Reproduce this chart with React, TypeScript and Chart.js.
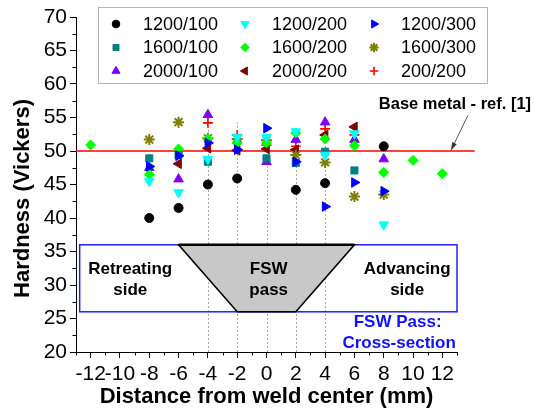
import React, { useEffect, useRef } from 'react';
import { Chart, registerables } from 'chart.js';
import { drawPoint } from 'chart.js/helpers';

Chart.register(...registerables);

// ---------- data ----------
const xPositions = [-12, -8, -6, -4, -2, 0, 2, 4, 6, 8, 10, 12];

const s1200_100 = [null, 40.0, 41.5, 45.0, 45.9, null, 44.2, 45.2, null, 50.7, null, null];
const s1200_200 = [null, 45.5, 43.8, 48.8, 52.1, 52.1, 52.9, 49.4, 52.6, 39.0, null, null];
const s1200_300 = [null, 47.7, 49.3, 51.2, 50.2, 53.4, 48.4, 41.7, 45.3, 44.0, null, null];
const s1600_100 = [null, 48.9, 49.4, 48.4, null, 48.9, 48.2, 49.9, 47.1, null, null, null];
const s1600_200 = [50.9, 46.5, 50.3, 51.8, 51.2, 51.2, 52.7, 51.8, 50.8, 46.8, 48.6, 46.6];
const s1600_300 = [null, 51.7, 54.3, 51.9, 51.8, 51.6, 49.4, 48.3, 43.2, 43.5, null, null];
const s2000_100 = [null, 47.5, 45.8, 55.4, 51.6, 48.4, 51.7, 54.3, 51.7, 48.8, null, null];
const s2000_200 = [null, null, 48.1, 50.4, 50.1, 50.3, 50.2, 52.4, 53.6, null, null, null];
const s200_200 = [null, null, null, 54.2, 52.4, 50.9, 50.7, 53.3, 52.4, null, null, null];

const seriesLabels = ['1200/100', '1200/200', '1200/300', '1600/100', '1600/200', '1600/300', '2000/100', '2000/200', '200/200'];
const seriesValues = [s1200_100, s1200_200, s1200_300, s1600_100, s1600_200, s1600_300, s2000_100, s2000_200, s200_200];

const xTickValues = [-12, -10, -8, -6, -4, -2, 0, 2, 4, 6, 8, 10, 12];
const yTickValues = [20, 25, 30, 35, 40, 45, 50, 55, 60, 65, 70];
const xMinorTicks = [-13, -11, -9, -7, -5, -3, -1, 1, 3, 5, 7, 9, 11, 13];
const yMinorTicks = [22.5, 27.5, 32.5, 37.5, 42.5, 47.5, 52.5, 57.5, 62.5, 67.5];

const baseMetal = 50;
const baseLineX = [-13, 14.2];
const dropLineX = [-4, -2, 0, 2, 4];
const dropLineTop = [55.5, 54.2, 53.6, 53.4, 55.2];
const passBoxX = [-12.75, 13];
const passBoxY = [26, 36];
const passTopX = [-6, 6];
const passBottomX = [-2, 2];

// ---------- styles ----------
const FONT = '"Liberation Sans", Arial, Helvetica, sans-serif';

const styles = [
  { pointStyle: 'circle', color: '#000000', radius: 4.5, rotation: 0, bw: 1 },
  { pointStyle: 'triangle', color: '#00ffff', radius: 5.5, rotation: 180, bw: 1 },
  { pointStyle: 'triangle', color: '#0000ff', radius: 5.5, rotation: 90, bw: 1 },
  { pointStyle: 'rect', color: '#008080', radius: 5, rotation: 0, bw: 1 },
  { pointStyle: 'rectRot', color: '#00ff00', radius: 5, rotation: 0, bw: 1 },
  { pointStyle: 'star', color: '#808000', radius: 5.5, rotation: 0, bw: 2 },
  { pointStyle: 'triangle', color: '#8000ff', radius: 5.5, rotation: 0, bw: 1 },
  { pointStyle: 'triangle', color: '#800000', radius: 5.5, rotation: 270, bw: 1 },
  { pointStyle: 'cross', color: '#ff0000', radius: 5, rotation: 0, bw: 1.6 },
];

const overlayPlugin = {
  id: 'overlay',
  beforeDatasetsDraw(chart: any) {
    const { ctx, scales } = chart;
    const x = scales.x;
    const y = scales.y;
    const px = (v: number) => x.getPixelForValue(v);
    const py = (v: number) => y.getPixelForValue(v);
    ctx.save();
    // drop lines
    ctx.strokeStyle = '#a8a8a8';
    ctx.lineWidth = 1;
    ctx.setLineDash([2, 2]);
    dropLineX.forEach((v, i) => {
      const xx = Math.round(px(v)) + 0.5;
      ctx.beginPath();
      ctx.moveTo(xx, py(20));
      ctx.lineTo(xx, py(dropLineTop[i]));
      ctx.stroke();
    });
    ctx.setLineDash([]);
    // pass box
    ctx.strokeStyle = '#2020ff';
    ctx.lineWidth = 1.5;
    ctx.strokeRect(px(passBoxX[0]), py(passBoxY[1]), px(passBoxX[1]) - px(passBoxX[0]), py(passBoxY[0]) - py(passBoxY[1]));
    // trapezoid
    ctx.beginPath();
    ctx.moveTo(px(passTopX[0]), py(passBoxY[1]));
    ctx.lineTo(px(passTopX[1]), py(passBoxY[1]));
    ctx.lineTo(px(passBottomX[1]), py(passBoxY[0]));
    ctx.lineTo(px(passBottomX[0]), py(passBoxY[0]));
    ctx.closePath();
    ctx.fillStyle = '#c8c8c8';
    ctx.fill();
    ctx.strokeStyle = '#000';
    ctx.lineWidth = 1.6;
    ctx.stroke();
    ctx.beginPath();
    ctx.lineWidth = 2.5;
    ctx.moveTo(px(passTopX[0]), py(passBoxY[1]));
    ctx.lineTo(px(passTopX[1]), py(passBoxY[1]));
    ctx.stroke();
    // base metal line
    ctx.strokeStyle = '#ff0000';
    ctx.lineWidth = 1.5;
    ctx.beginPath();
    ctx.moveTo(px(baseLineX[0]), py(baseMetal));
    ctx.lineTo(px(baseLineX[1]), py(baseMetal));
    ctx.stroke();
    ctx.restore();
  },
  afterDraw(chart: any) {
    const { ctx, scales, chartArea } = chart;
    const x = scales.x;
    const y = scales.y;
    const px = (v: number) => x.getPixelForValue(v);
    const py = (v: number) => y.getPixelForValue(v);
    ctx.save();
    // minor ticks
    ctx.strokeStyle = '#000';
    ctx.lineWidth = 1;
    xMinorTicks.forEach((v) => {
      const xx = Math.round(px(v)) + 0.5;
      ctx.beginPath();
      ctx.moveTo(xx, chartArea.bottom);
      ctx.lineTo(xx, chartArea.bottom + 3.5);
      ctx.stroke();
    });
    yMinorTicks.forEach((v) => {
      const yy = Math.round(py(v)) + 0.5;
      ctx.beginPath();
      ctx.moveTo(chartArea.left, yy);
      ctx.lineTo(chartArea.left - 3.5, yy);
      ctx.stroke();
    });
    // texts in box
    ctx.fillStyle = '#000';
    ctx.textAlign = 'center';
    ctx.textBaseline = 'middle';
    ctx.font = `bold 17px ${FONT}`;
    ctx.fillText('Retreating', px(-9.3), py(32.4));
    ctx.fillText('side', px(-9.3), py(29.2));
    ctx.fillText('FSW', px(0.15), py(32.4));
    ctx.fillText('pass', px(0.15), py(29.2));
    ctx.fillText('Advancing', px(9.6), py(32.4));
    ctx.fillText('side', px(9.6), py(29.2));
    ctx.fillStyle = '#1010ff';
    ctx.fillText('FSW Pass:', px(8.95), py(24.5));
    ctx.fillText('Cross-section', px(9.05), py(21.3));
    // base metal label + arrow
    ctx.fillStyle = '#000';
    ctx.font = `bold 16.5px ${FONT}`;
    ctx.fillText('Base metal - ref. [1]', px(12.86), py(56.9));
    const ax0 = px(13.74), ay0 = py(55.3), ax1 = px(12.59), ay1 = py(50.1);
    ctx.strokeStyle = '#555';
    ctx.fillStyle = '#333';
    ctx.lineWidth = 1;
    ctx.beginPath();
    ctx.moveTo(ax0, ay0);
    ctx.lineTo(ax1, ay1);
    ctx.stroke();
    const ang = Math.atan2(ay1 - ay0, ax1 - ax0);
    const hl = 8, hw = 2.5;
    ctx.beginPath();
    ctx.moveTo(ax1, ay1);
    ctx.lineTo(ax1 - hl * Math.cos(ang) + hw * Math.sin(ang), ay1 - hl * Math.sin(ang) - hw * Math.cos(ang));
    ctx.lineTo(ax1 - hl * Math.cos(ang) - hw * Math.sin(ang), ay1 - hl * Math.sin(ang) + hw * Math.cos(ang));
    ctx.closePath();
    ctx.fill();
    // axis titles
    ctx.fillStyle = '#000';
    ctx.font = `bold 22px ${FONT}`;
    ctx.fillText('Distance from weld center (mm)', (chartArea.left + chartArea.right) / 2, chartArea.bottom + 45);
    ctx.save();
    ctx.translate(chartArea.left - 53, (chartArea.top + chartArea.bottom) / 2 + 14);
    ctx.rotate(-Math.PI / 2);
    ctx.fillText('Hardness (Vickers)', 0, 0);
    ctx.restore();
    // legend
    const lx = 98, ly = 7, lw = 389, lh = 76;
    ctx.fillStyle = '#fff';
    ctx.fillRect(lx, ly, lw, lh);
    ctx.strokeStyle = '#b4b4b4';
    ctx.lineWidth = 1;
    ctx.strokeRect(lx + 0.5, ly + 0.5, lw, lh);
    ctx.font = `18px ${FONT}`;
    ctx.textAlign = 'left';
    chart.data.datasets.forEach((ds: any, i: number) => {
      const col = i % 3;
      const row = Math.floor(i / 3);
      const mx = 116 + col * 129;
      const my = 24 + row * 23.5;
      ctx.fillStyle = ds.backgroundColor;
      ctx.strokeStyle = ds.borderColor;
      ctx.lineWidth = ds.borderWidth;
      drawPoint(ctx, { pointStyle: ds.pointStyle, radius: ds.pointRadius * 0.85, rotation: ds.rotation, borderWidth: ds.borderWidth }, mx, my);
      ctx.fillStyle = '#000';
      ctx.fillText(ds.label, mx + 27, my + 1);
    });
    ctx.restore();
  },
};

export default function App() {
  const ref = useRef<HTMLCanvasElement | null>(null);
  useEffect(() => {
    if (!ref.current) return;
    Chart.defaults.font.family = FONT;
    const datasets = seriesLabels.map((label, i) => {
      const st = styles[i];
      const vals = seriesValues[i];
      const data = xPositions
        .map((xv, j) => ({ x: xv, y: vals[j] }))
        .filter((p) => p.y !== null);
      return {
        label,
        data,
        showLine: false,
        pointStyle: st.pointStyle,
        pointRadius: st.radius,
        rotation: st.rotation,
        backgroundColor: st.color,
        borderColor: st.color,
        borderWidth: st.bw,
      };
    });
    const chart = new Chart(ref.current, {
      type: 'scatter',
      data: { datasets: datasets as any },
      plugins: [overlayPlugin as any],
      options: {
        responsive: false,
        animation: false,
        events: [],
        layout: { padding: { left: 0, right: 77, top: 17, bottom: 0 } },
        plugins: { legend: { display: false }, tooltip: { enabled: false } },
        scales: {
          x: {
            type: 'linear',
            min: -13,
            max: 13,
            afterBuildTicks: (s: any) => { s.ticks = xTickValues.map((v) => ({ value: v })); },
            afterFit: (s: any) => { s.height = 58; },
            grid: { drawOnChartArea: false, tickLength: 6, color: '#000', tickColor: '#000' },
            border: { color: '#000', width: 1 },
            ticks: { color: '#000', font: { size: 21 }, padding: 4, maxRotation: 0, autoSkip: false },
          },
          y: {
            type: 'linear',
            min: 20,
            max: 70,
            afterBuildTicks: (s: any) => { s.ticks = yTickValues.map((v) => ({ value: v })); },
            afterFit: (s: any) => { s.width = 76; },
            grid: { drawOnChartArea: false, tickLength: 6, color: '#000', tickColor: '#000' },
            border: { color: '#000', width: 1 },
            ticks: { color: '#000', font: { size: 21 }, padding: 3, autoSkip: false },
          },
        },
      },
    });
    return () => chart.destroy();
  }, []);
  return (
    <div style={{ position: 'absolute', left: 0, top: 0, width: 534, height: 410, background: '#fff' }}>
      <canvas ref={ref} width={534} height={410} style={{ display: 'block' }} />
    </div>
  );
}
